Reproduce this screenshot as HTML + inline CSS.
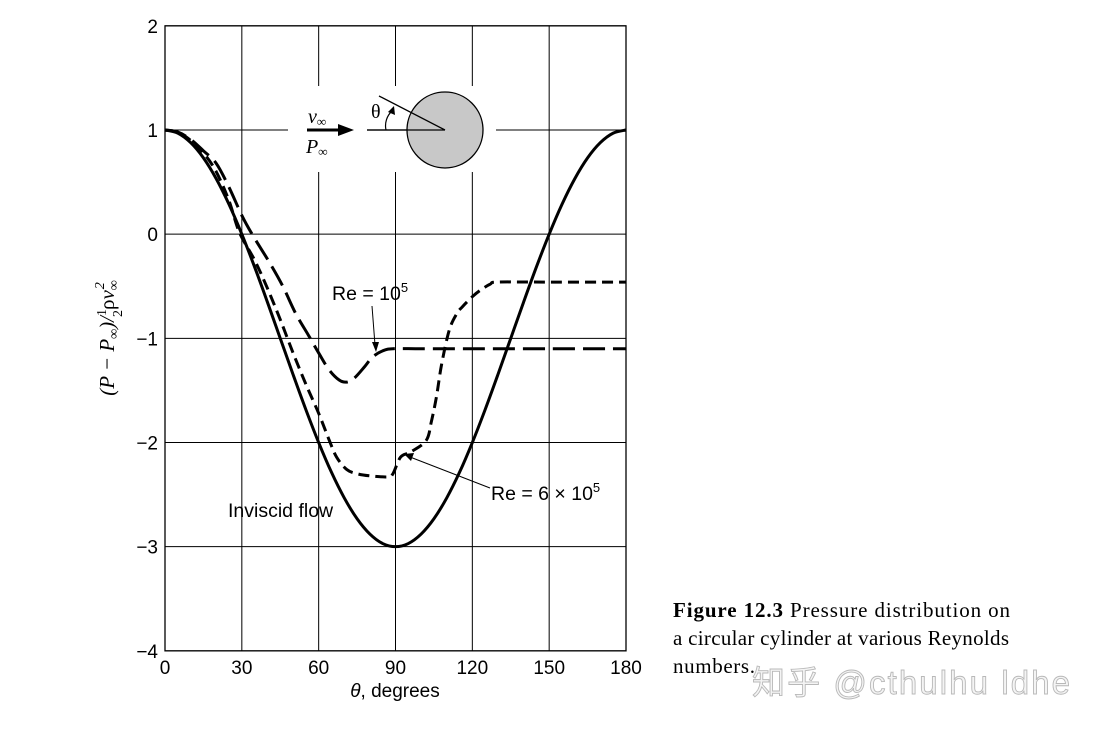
<!DOCTYPE html>
<html><head><meta charset="utf-8"><style>
body{margin:0;background:#fff;width:1100px;height:728px;overflow:hidden}
svg text{font-family:"Liberation Sans",sans-serif}
.ser{font-family:"Liberation Serif",serif}
</style></head><body>
<svg id="c" width="1100" height="728" xmlns="http://www.w3.org/2000/svg">
<g id="grid"></g>
<rect x="288" y="86" width="208" height="86" fill="#fff"/>
<g id="series"></g>
<g id="axes"></g>
<g>
<line x1="367" y1="130" x2="445" y2="130" stroke="#000" stroke-width="1.3"/>
<circle cx="445" cy="130" r="38" fill="#c8c8c8" stroke="#000" stroke-width="1.3"/>
<line x1="379" y1="96" x2="445" y2="130" stroke="#000" stroke-width="1.3"/>
<line x1="367" y1="130" x2="445" y2="130" stroke="#000" stroke-width="1.3"/>
<path d="M386 130 A20 20 0 0 1 392 111" fill="none" stroke="#000" stroke-width="1.2"/>
<polygon points="394,106 395,115 388,112" fill="#000"/>
<text x="371" y="118" font-size="20" class="ser">θ</text>
<line x1="307" y1="130" x2="342" y2="130" stroke="#000" stroke-width="3"/>
<polygon points="354,130 338,124 338,136" fill="#000"/>
<text x="308" y="123" font-size="20" font-style="italic" class="ser">v<tspan font-size="13" dy="3">∞</tspan></text>
<text x="306" y="153" font-size="20" font-style="italic" class="ser">P<tspan font-size="13" dy="3">∞</tspan></text>
</g>
<g>
<text x="332" y="300" font-size="19.5">Re = 10<tspan font-size="13" dy="-8">5</tspan></text>
<line x1="372" y1="306" x2="375" y2="345" stroke="#000" stroke-width="1"/>
<polygon points="376,352 372,342 379,342" fill="#000"/>
<text x="491" y="500" font-size="19.5">Re = 6 × 10<tspan font-size="13" dy="-8">5</tspan></text>
<line x1="490" y1="488" x2="410" y2="457" stroke="#000" stroke-width="1"/>
<polygon points="404,454 414,453 411,461" fill="#000"/>
<text x="228" y="517" font-size="19.5">Inviscid flow</text>
</g>
<text transform="translate(114,338) rotate(-90)" text-anchor="middle" font-size="21" class="ser" font-style="italic">(P − P<tspan font-size="14" dy="4">∞</tspan><tspan dy="-4">)/</tspan><tspan font-style="normal" font-size="14" dy="-8">1</tspan><tspan font-style="normal" font-size="14" dx="-8" dy="16">2</tspan><tspan font-style="normal" dy="-8">ρ</tspan>v<tspan font-size="14" dy="4">∞</tspan><tspan font-size="14" dx="-9" dy="-14">2</tspan></text>
<text x="395" y="697" text-anchor="middle" font-size="19"><tspan font-style="italic">θ</tspan>, degrees</text>
<g class="ser">
<text x="673" y="617" font-size="21" class="ser" textLength="337"><tspan font-weight="bold">Figure 12.3</tspan>  Pressure distribution on</text>
<text x="673" y="645" font-size="21" class="ser" textLength="336">a circular cylinder at various Reynolds</text>
<text x="673" y="673" font-size="21" class="ser" textLength="82">numbers.</text>
</g>
<text x="752" y="694" font-size="33" textLength="318" fill="#f4f4f4" stroke="#b8b8b8" stroke-width="0.9" style="font-family:'Liberation Sans','Noto Sans CJK SC',sans-serif">知乎 @cthulhu ldhe</text>
</svg>
<script>
const xTicks=[0,30,60,90,120,150,180];
const yTicks=[2,1,0,-1,-2,-3,-4];
const invTheta=[0,5,10,15,20,25,30,35,40,45,50,55,60,65,70,75,80,85,90,95,100,105,110,115,120,125,130,135,140,145,150,155,160,165,170,175,180];
const invCp=[1,0.97,0.879,0.732,0.532,0.286,0,-0.316,-0.653,-1,-1.347,-1.684,-2,-2.286,-2.532,-2.732,-2.879,-2.97,-3,-2.97,-2.879,-2.732,-2.532,-2.286,-2,-1.684,-1.347,-1,-0.653,-0.316,0,0.286,0.532,0.732,0.879,0.97,1];
const re1Theta=[0,5,10,15,20,25,30,34,41,46,51,56,60,64,68,71,74,78,81,85,89,100,120,150,180];
const re1Cp=[1,0.98,0.91,0.8,0.68,0.45,0.18,0,-0.28,-0.5,-0.76,-0.97,-1.14,-1.3,-1.4,-1.42,-1.38,-1.27,-1.18,-1.12,-1.1,-1.1,-1.1,-1.1,-1.1];
const re6Theta=[0,5,10,15,20,25,29,35,40,45,50,55,60,64,67,71,75,80,87,89,92,96,102,104,106,108,111,114,116,120,123,127,130,150,180];
const re6Cp=[1,0.98,0.9,0.78,0.6,0.32,0.02,-0.25,-0.52,-0.82,-1.14,-1.44,-1.72,-1.97,-2.14,-2.26,-2.3,-2.32,-2.33,-2.3,-2.14,-2.09,-1.98,-1.8,-1.56,-1.25,-0.92,-0.76,-0.7,-0.6,-0.54,-0.48,-0.46,-0.46,-0.46];
const X=v=>165+(v-0)*(626-165)/180;
const Y=v=>130-(v-1)*104.17;
const NS='http://www.w3.org/2000/svg';
function mk(tag,parent,attrs){const e=document.createElementNS(NS,tag);for(const k in attrs)e.setAttribute(k,attrs[k]);parent.appendChild(e);return e;}
const grid=document.getElementById('grid'),axes=document.getElementById('axes'),series=document.getElementById('series');
xTicks.forEach(t=>{
 const l=mk('line',grid,{x1:X(t),x2:X(t),y1:Y(2),y2:Y(-4),stroke:'#000','stroke-width':1});
 
 
 const tx=mk('text',axes,{x:X(t),y:674,'text-anchor':'middle','font-size':19});tx.textContent=t;
 
 
});
yTicks.forEach(t=>{
 const l=mk('line',grid,{x1:X(0),x2:X(180),y1:Y(t),y2:Y(t),stroke:'#000','stroke-width':1});
 
 
 const tx=mk('text',axes,{x:158,y:Y(t)+7,'text-anchor':'end','font-size':19});tx.textContent=t<0?'−'+(-t):t;
 
 
});
const fr=mk('rect',axes,{x:X(0),y:Y(2),width:X(180)-X(0),height:Y(-4)-Y(2),fill:'none',stroke:'#000','stroke-width':1.3});


function path(th,cp){const p=th.map((t,i)=>[X(t),Y(cp[i])]);
 let d='M'+p[0][0]+' '+p[0][1];
 for(let i=0;i<p.length-1;i++){const p0=p[Math.max(0,i-1)],p1=p[i],p2=p[i+1],p3=p[Math.min(p.length-1,i+2)];
  const c1=[p1[0]+(p2[0]-p0[0])/6,p1[1]+(p2[1]-p0[1])/6],c2=[p2[0]-(p3[0]-p1[0])/6,p2[1]-(p3[1]-p1[1])/6];
  d+=` C${c1[0]} ${c1[1]} ${c2[0]} ${c2[1]} ${p2[0]} ${p2[1]}`;}
 return d;}
const s1=mk('path',series,{d:path(invTheta,invCp),fill:'none',stroke:'#000','stroke-width':3});


const s2=mk('path',series,{d:path(re1Theta,re1Cp),fill:'none',stroke:'#000','stroke-width':3,'stroke-dasharray':'22 8'});


const s3=mk('path',series,{d:path(re6Theta,re6Cp),fill:'none',stroke:'#000','stroke-width':3,'stroke-dasharray':'11 6'});


</script>
</body></html>
